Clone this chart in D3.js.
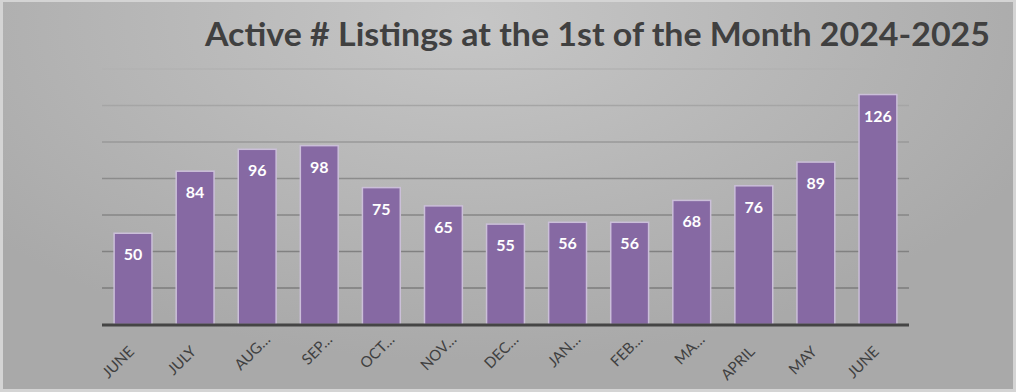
<!DOCTYPE html>
<html><head><meta charset="utf-8">
<script src="https://cdn.jsdelivr.net/npm/d3@7"></script>
<style>html,body{margin:0;padding:0;background:#d4d4d4;}svg{display:block;}</style>
</head><body>
<script>
const title = "Active # Listings at the 1st of the Month 2024-2025";
const months = ["JUNE","JULY","AUG…","SEP…","OCT…","NOV…","DEC…","JAN…","FEB…","MA…","APRIL","MAY","JUNE"];
const listings = [50,84,96,98,75,65,55,56,56,68,76,89,126];
const yTicks = [0,20,40,60,80,100,120,140];

const W = 1016, H = 392;
const svg = d3.select("body").append("svg").attr("width", W).attr("height", H);
const defs = svg.append("defs");
const bg = defs.append("radialGradient").attr("id","bg").attr("gradientUnits","userSpaceOnUse")
  .attr("cx",470).attr("cy",20).attr("r",620).attr("gradientTransform","matrix(1 0 0 0.55 0 9)");
bg.append("stop").attr("offset","0%").attr("stop-color","#c6c6c6");
bg.append("stop").attr("offset","100%").attr("stop-color","#a9a9a9");
const gg = defs.append("linearGradient").attr("id","grid").attr("gradientUnits","userSpaceOnUse")
  .attr("x1",0).attr("y1",69).attr("x2",0).attr("y2",324);
gg.append("stop").attr("offset","0%").attr("stop-color","#b2b2b2");
gg.append("stop").attr("offset","45%").attr("stop-color","#8a8a8a");
gg.append("stop").attr("offset","100%").attr("stop-color","#777");

svg.append("rect").attr("x",3).attr("y",2).attr("width",1010).attr("height",387).attr("fill","url(#bg)");

const x = d3.scaleBand().domain(d3.range(months.length)).range([102, 909]).paddingInner(0.39).paddingOuter(0.195);
const y = d3.scaleLinear().domain([0,140]).range([324.5, 69]);

// gridlines
svg.append("g").selectAll("line").data(yTicks.slice(1)).join("line")
  .attr("x1",102).attr("x2",909).attr("y1",d=>y(d)).attr("y2",d=>y(d))
  .attr("stroke","url(#grid)").attr("stroke-width",1.3);

// bars
svg.append("g").selectAll("rect").data(listings).join("rect")
  .attr("x",(d,i)=>x(i)).attr("width",x.bandwidth())
  .attr("y",d=>y(d)).attr("height",d=>y(0)-y(d))
  .attr("fill","#8669a3").attr("stroke","#cbbfd9").attr("stroke-width",1.5);

// value labels
svg.append("g").selectAll("text").data(listings).join("text")
  .attr("x",(d,i)=>x(i)+x.bandwidth()/2).attr("y",d=>y(d)+27)
  .attr("text-anchor","middle").attr("fill","#ffffff")
  .style("font-family","Lato, 'Open Sans', sans-serif").style("font-weight","bold").style("font-size","16px")
  .text(d=>d);

// axis
const xAxis = d3.axisBottom(x).tickSize(0).tickFormat(i=>months[i]);
const ax = svg.append("g").attr("transform",`translate(0,${y(0)})`).call(xAxis);
ax.select(".domain").remove();
svg.append("line").attr("x1",102).attr("x2",909).attr("y1",y(0)+0.5).attr("y2",y(0)+0.5)
  .attr("stroke","#454545").attr("stroke-width",3);
ax.selectAll(".tick text")
  .attr("text-anchor","end").attr("dy",0).attr("y",0)
  .attr("transform",(i)=>{const t = months[i].endsWith("…"); return `translate(${t?14:2},${t?16:28}) rotate(-45)`;})
  .attr("fill","#404040")
  .style("font-family","Lato, 'Open Sans', sans-serif").style("font-size","15px");

// title
svg.append("text").attr("x",205).attr("y",46).attr("textLength",785).attr("lengthAdjust","spacingAndGlyphs")
  .attr("fill","#404040").style("font-family","Lato, 'Open Sans', sans-serif").style("font-weight","bold").style("font-size","32px")
  .text(title);
</script>
</body></html>
